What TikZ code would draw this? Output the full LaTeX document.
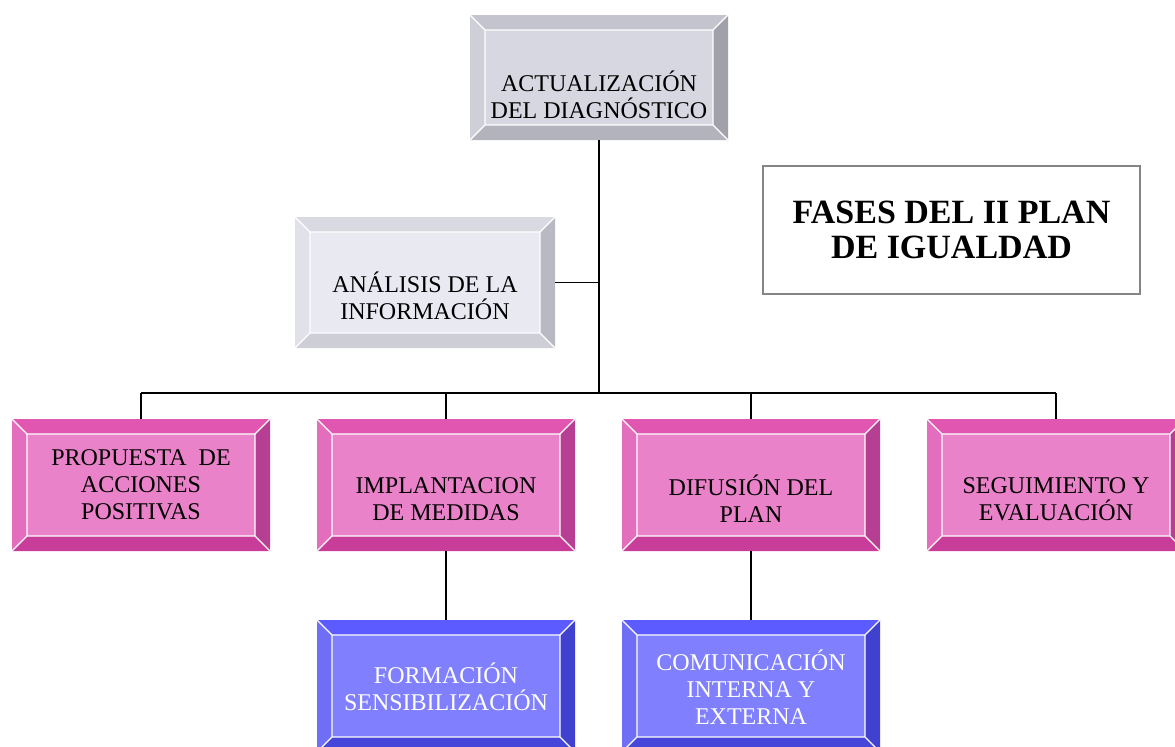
\documentclass[tikz,border=0pt]{standalone}
\usepackage{fontspec}
\setmainfont{Liberation Serif}
\usetikzlibrary{positioning}

\definecolor{diagface}{HTML}{D7D7E1}
\definecolor{diagtop}{HTML}{C4C4CE}
\definecolor{diagright}{HTML}{A1A1AB}
\definecolor{diagbottom}{HTML}{B3B3BD}
\definecolor{diagleft}{HTML}{CFCFD8}
\definecolor{infoface}{HTML}{E9E9F2}
\definecolor{infotop}{HTML}{D9D9E2}
\definecolor{inforight}{HTML}{B9B9C3}
\definecolor{infobottom}{HTML}{CECED7}
\definecolor{infoleft}{HTML}{E1E1EA}
\definecolor{pinkface}{HTML}{E982C9}
\definecolor{pinktop}{HTML}{E056B1}
\definecolor{pinkright}{HTML}{B63E93}
\definecolor{pinkbottom}{HTML}{C83D99}
\definecolor{pinkleft}{HTML}{E36EBE}
\definecolor{blueface}{HTML}{8080FF}
\definecolor{bluetop}{HTML}{5B5BFF}
\definecolor{blueright}{HTML}{4141CF}
\definecolor{bluebottom}{HTML}{4646DB}
\definecolor{blueleft}{HTML}{6F6FF5}
\definecolor{titleframe}{HTML}{858585}

\begin{document}
\begin{tikzpicture}[
  x=0.5pt, y=-0.5pt,
  every node/.style={font=\fontsize{12}{13.5}\selectfont},
  bevel/.style n args={5}{
    fill=#1, inner sep=0pt, minimum width=129pt, minimum height=66pt,
    path picture={
      \coordinate (bnw) at (path picture bounding box.north west);
      \coordinate (bne) at (path picture bounding box.north east);
      \coordinate (bse) at (path picture bounding box.south east);
      \coordinate (bsw) at (path picture bounding box.south west);
      \coordinate (inw) at ([shift={(7.5pt,-7.5pt)}]bnw);
      \coordinate (ine) at ([shift={(-7.5pt,-7.5pt)}]bne);
      \coordinate (ise) at ([shift={(-7.5pt,7.5pt)}]bse);
      \coordinate (isw) at ([shift={(7.5pt,7.5pt)}]bsw);
      \fill [#2] (bnw) -- (bne) -- (ine) -- (inw) -- cycle;
      \fill [#3] (bne) -- (bse) -- (ise) -- (ine) -- cycle;
      \fill [#4] (bse) -- (bsw) -- (isw) -- (ise) -- cycle;
      \fill [#5] (bsw) -- (bnw) -- (inw) -- (isw) -- cycle;
      \draw [white, line width=0.6pt] (inw) rectangle (ise)
        (bnw) -- (inw) (bne) -- (ine) (bse) -- (ise) (bsw) -- (isw);
    }},
  diag-box/.style={bevel={diagface}{diagtop}{diagright}{diagbottom}{diagleft}},
  info-box/.style={bevel={infoface}{infotop}{inforight}{infobottom}{infoleft}},
  pink-box/.style={bevel={pinkface}{pinktop}{pinkright}{pinkbottom}{pinkleft}},
  blue-box/.style={bevel={blueface}{bluetop}{blueright}{bluebottom}{blueleft}},
  box-text/.style={align=center, inner sep=0pt},
  link/.style={draw, line width=0.9pt},
  ]

  \useasboundingbox (0,0) rectangle (1175,746);
  \clip (0,0) rectangle (1175,746);

  \node [diag-box, minimum height=62.5pt] (diag-box) at (599,77.5) {};
  \node [box-text] (diag-text-node) at (599,95) {ACTUALIZACIÓN\\DEL DIAGNÓSTICO};

  \node [info-box, minimum width=130pt, minimum height=65.5pt] (info-box) at (425,282.5) {};
  \node [box-text] (info-text-node) at (425,296) {ANÁLISIS DE LA\\INFORMACIÓN};

  \node [pink-box] (propuesta-box) at (141,485) {};
  \node [pink-box] (implantacion-box) at (446,485) {};
  \node [pink-box] (difusion-box) at (751,485) {};
  \node [pink-box] (seguimiento-box) at (1056,485) {};
  \node [box-text] (propuesta-text-node) at (141,485) {PROPUESTA\ \ DE\\ACCIONES\\POSITIVAS};
  \node [box-text] (implantacion-text-node) at (446,499) {IMPLANTACION\\DE MEDIDAS};
  \node [box-text] (difusion-text-node) at (751,499) {DIFUSIÓN DEL\\PLAN};
  \node [box-text] (seguimiento-text-node) at (1056,499) {SEGUIMIENTO Y\\EVALUACIÓN};

  \node [blue-box] (formacion-box) at (446,686) {};
  \node [blue-box] (comunicacion-box) at (751,686) {};
  \node [box-text, text=white] (formacion-text-node) at (446,687) {FORMACIÓN\\SENSIBILIZACIÓN};
  \node [box-text, text=white] (comunicacion-text-node) at (751,687) {COMUNICACIÓN\\INTERNA Y\\EXTERNA};

  \node [draw=titleframe, line width=1pt, minimum width=188.5pt, minimum height=64pt,
    align=center, font=\fontsize{17}{17.5}\selectfont\bfseries] (title-node) at (951.5,230)
    {FASES DEL II PLAN\\DE IGUALDAD};

  \coordinate (bus-node) at (599,393);
  \draw [link] (diag-box.south) -- (bus-node);
  \draw [link] (info-box.east) -- (info-box.east -| bus-node);
  \draw [link] (propuesta-box.north |- bus-node) -- (seguimiento-box.north |- bus-node);
  \foreach \phase in {propuesta,implantacion,difusion,seguimiento}
    \draw [link] (\phase-box.north |- bus-node) -- (\phase-box.north);
  \draw [link] (implantacion-box.south) -- (formacion-box.north);
  \draw [link] (difusion-box.south) -- (comunicacion-box.north);

\end{tikzpicture}
\end{document}
